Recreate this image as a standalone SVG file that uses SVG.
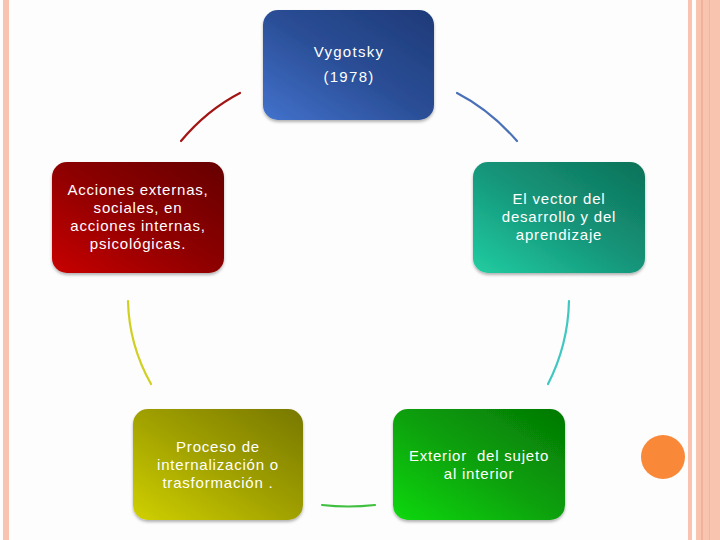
<svg xmlns="http://www.w3.org/2000/svg" width="720" height="540" viewBox="0 0 720 540">
<defs>
<linearGradient id="gBlue" x1="0" y1="1" x2="1" y2="0"><stop offset="0" stop-color="#4272CC"/><stop offset="0.5" stop-color="#2A4E96"/><stop offset="1" stop-color="#1E3A78"/></linearGradient>
<linearGradient id="gRed" x1="0" y1="1" x2="1" y2="0"><stop offset="0" stop-color="#C80000"/><stop offset="0.5" stop-color="#8E0000"/><stop offset="1" stop-color="#660000"/></linearGradient>
<linearGradient id="gTeal" x1="0" y1="1" x2="1" y2="0"><stop offset="0" stop-color="#22CDA2"/><stop offset="0.5" stop-color="#14957A"/><stop offset="1" stop-color="#0E7258"/></linearGradient>
<linearGradient id="gYel" x1="0" y1="1" x2="1" y2="0"><stop offset="0" stop-color="#D0D000"/><stop offset="0.5" stop-color="#A0A000"/><stop offset="1" stop-color="#787800"/></linearGradient>
<linearGradient id="gGrn" x1="0" y1="1" x2="1" y2="0"><stop offset="0" stop-color="#12D812"/><stop offset="0.5" stop-color="#0AA00A"/><stop offset="1" stop-color="#047804"/></linearGradient>
<filter id="sh" x="-10%" y="-10%" width="120%" height="125%"><feDropShadow dx="0" dy="2" stdDeviation="1.5" flood-color="#000" flood-opacity="0.3"/></filter>
</defs>
<style>
.box{filter:url(#sh)}
text{font-family:"Liberation Sans",Arial,sans-serif;font-size:15px;fill:#fff;text-anchor:middle;letter-spacing:0.8px;white-space:pre}
.t1{letter-spacing:1.3px}
.arc{fill:none;stroke-width:2.2;stroke-linecap:round}
</style>
<rect width="720" height="540" fill="#fdfdfd"/>
<g id="border">
<rect x="3" y="0" width="6" height="540" fill="#F8C4B0"/>
<rect x="688" y="0" width="4" height="540" fill="#F8C4B0"/>
<rect x="696" y="0" width="24" height="540" fill="#F8C4B0"/>
<rect x="701.5" y="0" width="1" height="540" fill="#E8A080"/>
<rect x="709" y="0" width="1" height="540" fill="#F2B49C"/>
<circle cx="663" cy="457" r="22" fill="#F98838"/>
</g>
<g id="connectors">
<path class="arc" stroke="#A31515" d="M181,141 Q207,110 240,93"/>
<path class="arc" stroke="#4A70B8" d="M457,93 Q490,110 517,141"/>
<path class="arc" stroke="#40C8C0" d="M569,301 Q568,345 548,384"/>
<path class="arc" stroke="#40C040" d="M322,505 Q348,508 375,505"/>
<path class="arc" stroke="#D0D020" d="M128,301 Q129,345 151,384"/>
</g>
<g id="n1"><rect class="box" x="263" y="10" width="171" height="110" rx="15" fill="url(#gBlue)"/>
<text class="t1" x="349" y="57">Vygotsky</text><text class="t1" x="349" y="82">(1978)</text></g>
<g id="n2"><rect class="box" x="52" y="162" width="172" height="111" rx="15" fill="url(#gRed)"/>
<text x="138" y="195">Acciones externas,</text><text x="138" y="213">sociales, en</text><text x="138" y="231">acciones internas,</text><text x="138" y="249">psicológicas.</text></g>
<g id="n3"><rect class="box" x="473" y="162" width="172" height="111" rx="15" fill="url(#gTeal)"/>
<text x="559" y="204">El vector del</text><text x="559" y="222">desarrollo y del</text><text x="559" y="240">aprendizaje</text></g>
<g id="n4"><rect class="box" x="133" y="409" width="170" height="111" rx="15" fill="url(#gYel)"/>
<text x="218" y="452">Proceso de</text><text x="218" y="470">internalización o</text><text x="218" y="488">trasformación .</text></g>
<g id="n5"><rect class="box" x="393" y="409" width="172" height="111" rx="15" fill="url(#gGrn)"/>
<text x="479" y="461">Exterior  del sujeto</text><text x="479" y="479">al interior</text></g>
</svg>
